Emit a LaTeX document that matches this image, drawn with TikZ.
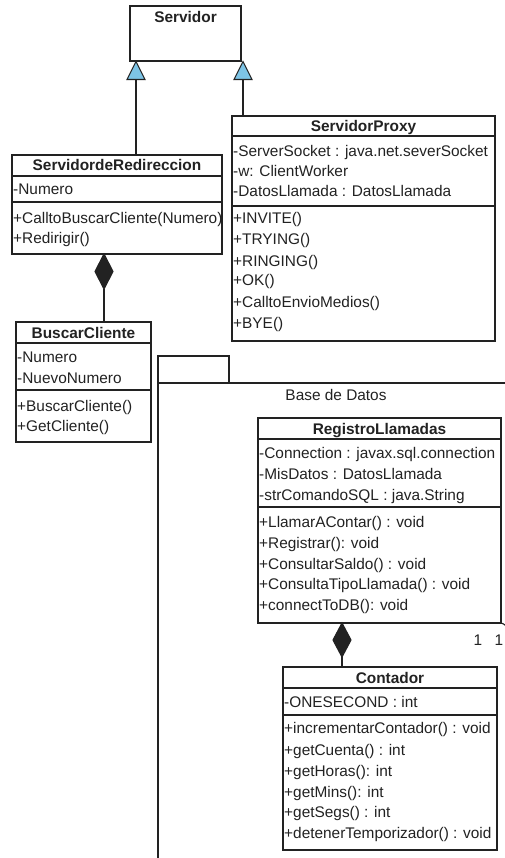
\documentclass[tikz,border=0pt]{standalone}
\usepackage{fontspec}
\setmainfont{Liberation Sans}
\definecolor{genblue}{RGB}{125,196,230}
\definecolor{ink}{RGB}{34,34,34}
\begin{document}
\begin{tikzpicture}[x=1pt,y=-1pt,
  ln/.style={line width=1.1pt, draw=ink},
  cls/.style={ln, fill=white, rectangle, inner sep=0pt, outer sep=0pt, anchor=north west},
  txt/.style={anchor=base west, inner sep=0pt, text=ink, font=\fontsize{15.4}{18}\selectfont},
  ttl/.style={anchor=base, inner sep=0pt, text=ink, font=\fontsize{15.4}{18}\selectfont\bfseries},
  pkg/.style={anchor=base, inner sep=0pt, text=ink, font=\fontsize{15.4}{18}\selectfont},
  gen/.style={ln, fill=genblue, line join=miter},
  comp/.style={ln, fill=ink, line join=miter}
]
\useasboundingbox (0,0) rectangle (505,858);
\fill[white] (0,0) rectangle (505,858);

% ---------- package "Base de Datos" ----------
\node[cls, minimum width=71pt, minimum height=27pt] (pkgtab) at (158,356) {};
\coordinate (pkgtl) at (158,383);
\coordinate (pkgtr) at (512,383);
\coordinate (pkgbl) at (158,862);
\draw[ln] (pkgtr) -- (pkgtl) -- (pkgbl);
\node[pkg] (pkgname) at (336,400) {Base de Datos};

% ---------- Servidor ----------
\node[cls, minimum width=111pt, minimum height=55pt] (srv) at (130,6) {};
\node[ttl] (srv-t) at (185.5,23) {Servidor};

% ---------- ServidordeRedireccion ----------
\node[cls, minimum width=210pt, minimum height=99pt] (redir) at (12,155) {};
\draw[ln] (redir.west |- 0,176) -- (redir.east |- 0,176);
\draw[ln] (redir.west |- 0,202) -- (redir.east |- 0,202);
\node[ttl] (redir-t) at (117,171) {ServidordeRedireccion};
\node[txt] (redir-a1) at (13,195) {-Numero};
\node[txt] (redir-m1) at (13,224) {+CalltoBuscarCliente(Numero)};
\node[txt] (redir-m2) at (13,244) {+Redirigir()};

% ---------- ServidorProxy ----------
\node[cls, minimum width=263pt, minimum height=225pt] (proxy) at (232,116) {};
\draw[ln] (proxy.west |- 0,136) -- (proxy.east |- 0,136);
\draw[ln] (proxy.west |- 0,206) -- (proxy.east |- 0,206);
\node[ttl] (proxy-t) at (363.5,131.5) {ServidorProxy};
\node[txt] (proxy-a1) at (233,157) {-ServerSocket : java.net.severSocket};
\node[txt] (proxy-a2) at (233,177) {-w: ClientWorker};
\node[txt] (proxy-a3) at (233,197) {-DatosLlamada : DatosLlamada};
\node[txt] (proxy-m1) at (233,224) {+INVITE()};
\node[txt] (proxy-m2) at (233,245) {+TRYING()};
\node[txt] (proxy-m3) at (233,266) {+RINGING()};
\node[txt] (proxy-m4) at (233,286) {+OK()};
\node[txt] (proxy-m5) at (233,307) {+CalltoEnvioMedios()};
\node[txt] (proxy-m6) at (233,328) {+BYE()};

% ---------- BuscarCliente ----------
\node[cls, minimum width=135pt, minimum height=120pt] (busc) at (16,322) {};
\draw[ln] (busc.west |- 0,343) -- (busc.east |- 0,343);
\draw[ln] (busc.west |- 0,390) -- (busc.east |- 0,390);
\node[ttl] (busc-t) at (83.5,338) {BuscarCliente};
\node[txt] (busc-a1) at (17,362) {-Numero};
\node[txt] (busc-a2) at (17,383) {-NuevoNumero};
\node[txt] (busc-m1) at (17,411) {+BuscarCliente()};
\node[txt] (busc-m2) at (17,431) {+GetCliente()};

% ---------- RegistroLlamadas ----------
\node[cls, minimum width=243pt, minimum height=205pt] (reg) at (258,418) {};
\draw[ln] (reg.west |- 0,439) -- (reg.east |- 0,439);
\draw[ln] (reg.west |- 0,507) -- (reg.east |- 0,507);
\node[ttl] (reg-t) at (379.5,434) {RegistroLlamadas};
\node[txt] (reg-a1) at (259,458) {-Connection : javax.sql.connection};
\node[txt] (reg-a2) at (259,479) {-MisDatos : DatosLlamada};
\node[txt] (reg-a3) at (259,500) {-strComandoSQL : java.String};
\node[txt] (reg-m1) at (259,527) {+LlamarAContar() : void};
\node[txt] (reg-m2) at (259,548) {+Registrar(): void};
\node[txt] (reg-m3) at (259,569) {+ConsultarSaldo() : void};
\node[txt] (reg-m4) at (259,589) {+ConsultaTipoLlamada() : void};
\node[txt] (reg-m5) at (259,610) {+connectToDB(): void};

% ---------- Contador ----------
\node[cls, minimum width=214pt, minimum height=183pt] (cont) at (283,667) {};
\draw[ln] (cont.west |- 0,688) -- (cont.east |- 0,688);
\draw[ln] (cont.west |- 0,715) -- (cont.east |- 0,715);
\node[ttl] (cont-t) at (390,683) {Contador};
\node[txt] (cont-a1) at (284,707) {-ONESECOND : int};
\node[txt] (cont-m1) at (284,733) {+incrementarContador() : void};
\node[txt] (cont-m2) at (284,755) {+getCuenta() : int};
\node[txt] (cont-m3) at (284,776) {+getHoras(): int};
\node[txt] (cont-m4) at (284,797) {+getMins(): int};
\node[txt] (cont-m5) at (284,817) {+getSegs() : int};
\node[txt] (cont-m6) at (284,838) {+detenerTemporizador() : void};

% ---------- generalizations to Servidor ----------
\coordinate (g1) at (136,61.5);
\coordinate (g2) at (243,61.5);
\draw[ln] (g1) ++(0,18) coordinate (g1b) -- (g1b |- redir.north);
\draw[ln] (g2) ++(0,18) coordinate (g2b) -- (g2b |- proxy.north);
\draw[gen] (g1) -- ++(-9,18) -- ++(18,0) -- cycle;
\draw[gen] (g2) -- ++(-9,18) -- ++(18,0) -- cycle;

% ---------- compositions ----------
\coordinate (d1) at (104,254);
\draw[ln] (d1) ++(0,35) coordinate (d1b) -- (d1b |- busc.north);
\draw[comp] (d1) -- ++(9,17.5) -- ++(-9,17.5) -- ++(-9,-17.5) -- cycle;

\coordinate (d2) at (342,623);
\draw[ln] (d2) ++(0,34) coordinate (d2b) -- (d2b |- cont.north);
\draw[comp] (d2) -- ++(9,17) -- ++(-9,17) -- ++(-9,-17) -- cycle;

% ---------- association leaving RegistroLlamadas ----------
\coordinate (assocend) at (510,628);
\draw[ln] (reg.south east) to[out=-10,in=170] (assocend);
\node[pkg] (mult1) at (478,645) {1};
\node[pkg] (mult2) at (499,645) {1};
\end{tikzpicture}
\end{document}
